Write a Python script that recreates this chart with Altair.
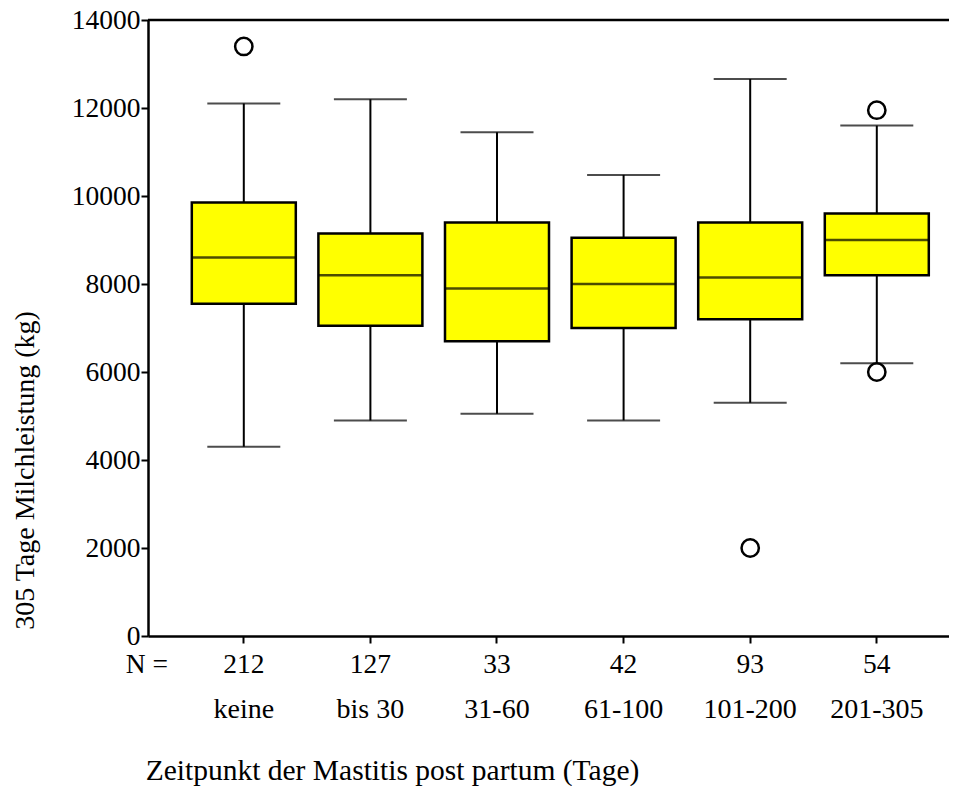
import altair as alt
import pandas as pd

groups = ["keine", "bis 30", "31-60", "61-100", "101-200", "201-305"]
n_values = [212, 127, 33, 42, 93, 54]
whisker_low = [4300, 4900, 5050, 4900, 5300, 6200]
q1 = [7550, 7050, 6700, 7000, 7200, 8200]
median = [8600, 8200, 7900, 8000, 8150, 9000]
q3 = [9850, 9150, 9400, 9050, 9400, 9600]
whisker_high = [12100, 12200, 11450, 10480, 12660, 11600]
outlier_group = ["keine", "101-200", "201-305", "201-305"]
outlier_value = [13400, 2000, 11950, 6000]
y_ticks = [0, 2000, 4000, 6000, 8000, 10000, 12000, 14000]

FONT = "Liberation Serif"
W, H = 801, 616

stats = pd.DataFrame({
    "group": groups, "n": [str(v) for v in n_values],
    "low": whisker_low, "q1": q1, "med": median, "q3": q3, "high": whisker_high,
})
outl = pd.DataFrame({"group": outlier_group, "value": outlier_value})

xscale = alt.Scale(domain=groups, paddingInner=0, paddingOuter=0.1635, align=0.785)
yscale = alt.Scale(domain=[0, 14000], nice=False, zero=True)

xaxis = alt.Axis(
    labels=False, ticks=True, tickSize=7, tickWidth=2, tickColor="black",
    domain=True, domainColor="black", domainWidth=2.5, grid=False,
    title="Zeitpunkt der Mastitis post partum (Tage)",
    titleFont=FONT, titleFontSize=29.5, titleFontWeight="normal", titleColor="black",
    titleX=244, titleY=134, titleAlign="center", titleBaseline="middle",
)
yaxis = alt.Axis(
    values=y_ticks, format="d", tickSize=7, tickWidth=2, tickColor="black",
    domain=True, domainColor="black", domainWidth=2.5, grid=False,
    labelFont=FONT, labelFontSize=27.5, labelColor="black", labelPadding=1,
    title="305 Tage Milchleistung (kg)",
    titleFont=FONT, titleFontSize=28, titleFontWeight="normal", titleColor="black",
    titleX=-123, titleY=450, titleAngle=270, titleAlign="center", titleBaseline="middle",
)

base = alt.Chart(stats)

whisk = base.mark_rule(color="black", strokeWidth=2).encode(
    x=alt.X("group:N", scale=xscale, axis=xaxis, sort=groups),
    y=alt.Y("low:Q", scale=yscale, axis=yaxis),
    y2="high:Q",
)
caps_low = base.mark_tick(color="black", thickness=2, size=73).encode(
    x=alt.X("group:N", sort=groups), y="low:Q")
caps_high = base.mark_tick(color="black", thickness=2, size=73).encode(
    x=alt.X("group:N", sort=groups), y="high:Q")
box = base.mark_bar(size=104, color="#FFFF00", stroke="black", strokeWidth=2.5).encode(
    x=alt.X("group:N", sort=groups), y="q1:Q", y2="q3:Q")
med = base.mark_tick(color="black", thickness=2.5, size=104).encode(
    x=alt.X("group:N", sort=groups), y="med:Q")
pts = alt.Chart(outl).mark_point(shape="circle", filled=False, color="black",
                                 strokeWidth=2.5, size=300, opacity=1).encode(
    x=alt.X("group:N", sort=groups), y="value:Q")

n_text = base.mark_text(font=FONT, fontSize=27.5, baseline="middle", align="center",
                        color="black").encode(
    x=alt.X("group:N", sort=groups), y=alt.value(645), text="n:N")
g_text = base.mark_text(font=FONT, fontSize=28, baseline="middle", align="center",
                        color="black").encode(
    x=alt.X("group:N", sort=groups), y=alt.value(690), text="group:N")
n_label = alt.Chart(pd.DataFrame({"t": ["N ="]})).mark_text(
    font=FONT, fontSize=27.5, baseline="middle", align="right", color="black").encode(
    x=alt.value(20), y=alt.value(645), text="t:N")
top_line = alt.Chart(pd.DataFrame({"t": [0]})).mark_rule(color="black", strokeWidth=2.5).encode(
    x=alt.value(0), x2=alt.value(W), y=alt.value(0))

chart = alt.layer(whisk, caps_low, caps_high, box, med, pts, n_text, g_text, n_label, top_line).properties(
    width=W, height=H,
    autosize=alt.AutoSizeParams(type="none"),
    padding={"left": 140, "top": 12, "right": 0, "bottom": 150},
).configure_view(stroke=None).configure(background="white")

chart.save("out.html", embed_options={"renderer": "svg", "actions": False})
